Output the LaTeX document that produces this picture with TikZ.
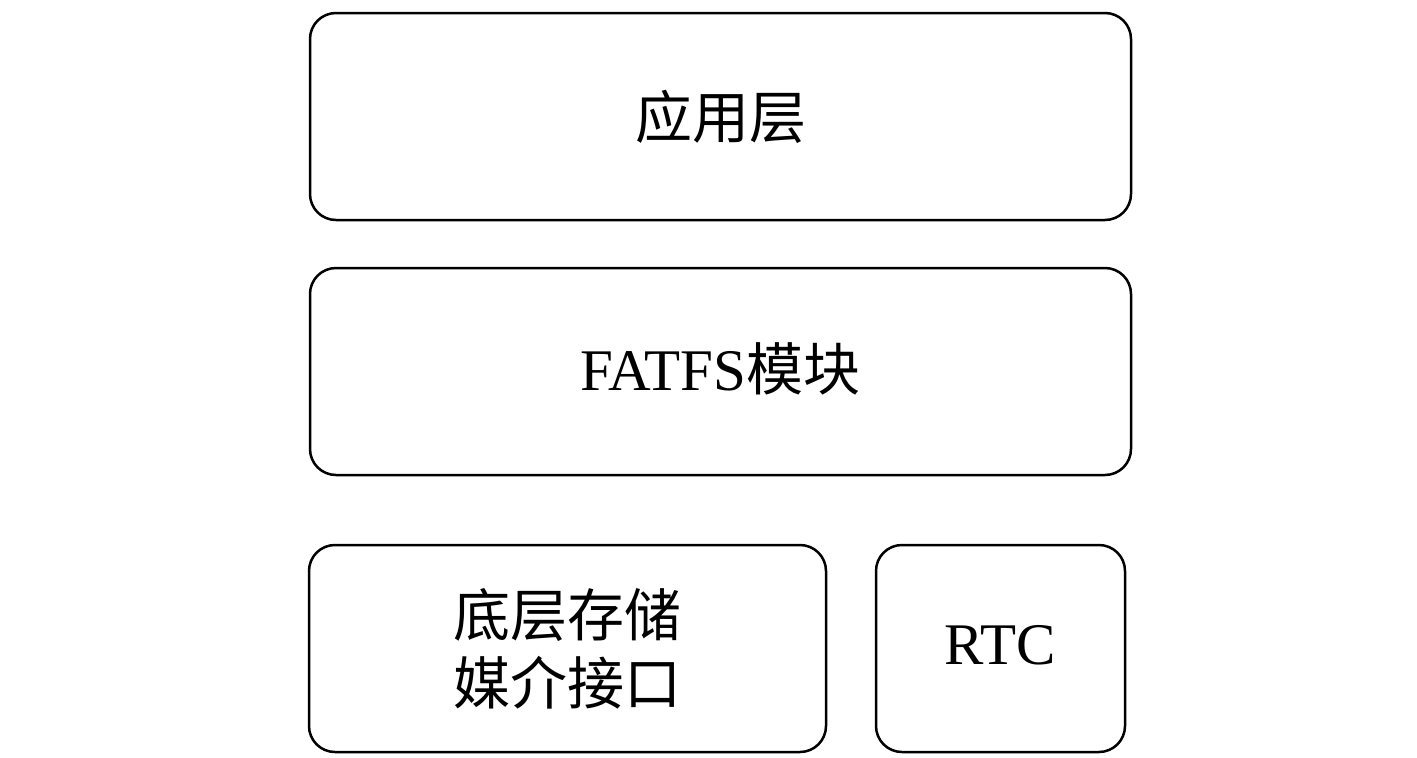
\documentclass[tikz,border=0pt]{standalone}
\usepackage{fontspec}
\setmainfont{Liberation Serif}
\newfontfamily\cjk{Noto Sans CJK SC}
\begin{document}
\begin{tikzpicture}[x=1pt,y=-1pt,
  layerbox/.style={draw=black, line width=2.5pt, rounded corners=26pt, align=center,
    font=\fontsize{57}{68}\selectfont, inner sep=0pt}]
\useasboundingbox (0,0) rectangle (1417,758);
\node[layerbox, minimum width=821pt, minimum height=207pt] (app) at (720.5,116.5) {\cjk 应用层};
\node[layerbox, minimum width=821pt, minimum height=207pt, text depth=0pt] (fat) at (720.5,371.5) {};
\node[font=\fontsize{59}{68}\selectfont] (fattext) at (fat.center) [yshift=3pt] {FATFS{\cjk\fontsize{57}{68}\selectfont 模块}};
\node[layerbox, minimum width=517pt, minimum height=207pt] (low) at (567.5,648.5) {\cjk 底层存储\\\cjk 媒介接口};
\node[layerbox, minimum width=249pt, minimum height=207pt] (rtc) at (1000.5,648.5) {};
\node[font=\fontsize{59}{68}\selectfont] (rtctext) at (rtc.center) [yshift=3pt] {RTC};
\end{tikzpicture}
\end{document}
